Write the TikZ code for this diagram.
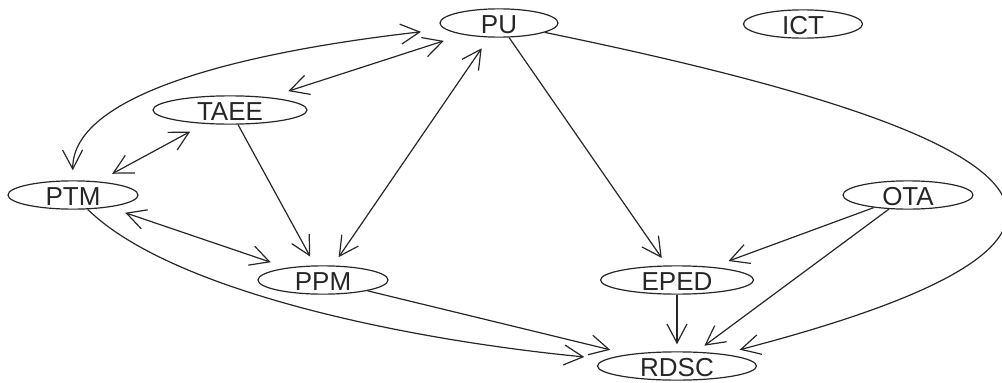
\documentclass[tikz,border=0pt]{standalone}
\usepackage{fontspec}
\setmainfont{Liberation Sans}
\usetikzlibrary{arrows.meta,shapes.geometric}
\begin{document}
\begin{tikzpicture}[x=1pt,y=-1pt,
  >={Straight Barb[length=19pt,width=20pt]},
  nd/.style={ellipse, draw=black!85, line width=1.2pt, inner sep=0pt, minimum height=26pt,
    text height=20pt, text depth=-2pt, font=\fontsize{26}{26}\selectfont, text=black!85},
  edge/.style={line width=1.2pt, draw=black!85}]
\useasboundingbox (0,0) rectangle (1002,383);
\node[nd, minimum width=118pt] (PU) at (499,23) {PU};
\node[nd, minimum width=119pt] (ICT) at (803,24) {ICT};
\node[nd, minimum width=154pt] (TAEE) at (230,110) {TAEE};
\node[nd, minimum width=130pt] (PTM) at (73,195) {PTM};
\node[nd, minimum width=130pt] (OTA) at (908,195) {OTA};
\node[nd, minimum width=130pt] (PPM) at (323,280) {PPM};
\node[nd, minimum width=153pt] (EPED) at (677,280) {EPED};
\node[nd, minimum width=159pt] (RDSC) at (677,366) {RDSC};

\draw[edge,<->,shorten <=10pt,shorten >=24pt] (PTM) .. controls (72,90) and (260,50) .. (PU);
\draw[edge,<->,shorten <=20pt,shorten >=20pt] (PU) -- (TAEE);
\draw[edge,<->,shorten <=16pt,shorten >=16pt] (TAEE) -- (PTM);
\draw[edge,->,shorten >=10pt] (TAEE) -- (PPM);
\draw[edge,<->,shorten <=13pt,shorten >=10pt] (PU) -- (PPM);
\draw[edge,<->,shorten <=17pt,shorten >=17pt] (PTM) -- (PPM);
\draw[edge,->,shorten >=22pt] (PTM) .. controls (170,290) and (400,339) .. (RDSC);
\draw[edge,->,shorten >=19pt] (PPM) -- (RDSC);
\draw[edge,->,shorten >=9pt] (PU) -- (EPED);
\draw[edge,->,shorten >=17pt] (PU) .. controls (1020,130) and (1200,230) .. (RDSC);
\draw[edge,->,shorten >=17pt] (OTA) -- (EPED);
\draw[edge,->,shorten >=10pt] (OTA) -- (RDSC);
\draw[edge,->,shorten >=7pt] (EPED) -- (RDSC);
\end{tikzpicture}
\end{document}
